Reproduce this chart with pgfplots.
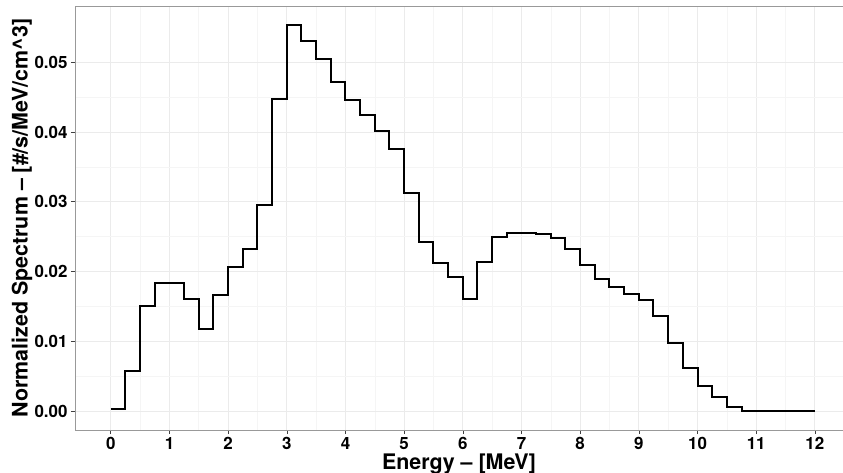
\documentclass[border=0pt]{standalone}
\usepackage{fontspec}
\setmainfont{TeX Gyre Heros}
\usepackage{pgfplots}
\pgfplotsset{compat=1.18}
\definecolor{gridmaj}{HTML}{EBEBEB}
\definecolor{gridmin}{HTML}{F5F5F5}
\definecolor{frame}{HTML}{999999}

\begin{document}
\begin{tikzpicture}
  \begin{axis}[
    at={(0,0)}, anchor=south west,
    scale only axis,
    width=768bp, height=424bp,
    xmin=-0.61, xmax=12.48,
    ymin=-0.00272, ymax=0.05807,
    xtick={0,1,...,12},
    ytick={0,0.01,0.02,0.03,0.04,0.05},
    minor x tick num=1, minor y tick num=1,
    grid=both,
    major grid style={gridmaj, line width=0.8bp},
    minor grid style={gridmin, line width=0.6bp},
    minor tick length=0pt,
    major tick length=4bp,
    tick align=outside,
    xtick pos=bottom, ytick pos=left,
    tick style={black!75, line width=0.6bp},
    axis line style={draw=none},
    /pgf/number format/assume math mode=true,
    yticklabel style={/pgf/number format/fixed,
      /pgf/number format/fixed zerofill,
      /pgf/number format/precision=2},
    scaled y ticks=false,
    ticklabel style={font=\bfseries\fontsize{17}{17}\selectfont, text=black},
    xlabel={Energy -- [MeV]},
    ylabel={Normalized Spectrum -- [\#/s/MeV/cm\^{}3]},
    label style={font=\bfseries\fontsize{21.5}{21.5}\selectfont},
    xlabel style={at={(axis description cs:0.5,-0.092)}, anchor=base},
    ylabel style={at={(axis description cs:-0.069,0.5)}, anchor=center, rotate=0},
    extra description/.code={
      \draw[frame, line width=0.8bp] (1,1) -- (0,1) -- (0,0) -- (1,0);
    },
  ]
    \addplot[const plot, black, line width=2bp, line join=miter] coordinates {
      (0,0.00025) (0.25,0.0058) (0.5,0.0150) (0.75,0.0184)
      (1.0,0.0183) (1.25,0.0161) (1.5,0.0118) (1.75,0.0167)
      (2.0,0.0206) (2.25,0.0232) (2.5,0.0296) (2.75,0.0447)
      (3.0,0.0554) (3.25,0.0531) (3.5,0.0505) (3.75,0.0472)
      (4.0,0.0446) (4.25,0.0425) (4.5,0.0402) (4.75,0.0375)
      (5.0,0.0313) (5.25,0.0243) (5.5,0.0212) (5.75,0.0192)
      (6.0,0.0160) (6.25,0.0214) (6.5,0.0250) (6.75,0.0255)
      (7.0,0.0255) (7.25,0.0254) (7.5,0.0248) (7.75,0.0232)
      (8.0,0.0210) (8.25,0.0190) (8.5,0.0178) (8.75,0.0168)
      (9.0,0.0159) (9.25,0.0136) (9.5,0.0098) (9.75,0.0061)
      (10.0,0.0036) (10.25,0.0020) (10.5,0.0006) (10.75,0.00005)
      (11.0,0) (11.25,0) (11.5,0) (11.75,0) (12,0)
    };
  \end{axis}
  \pgfresetboundingbox
  \path[use as bounding box] (-75bp,-43bp) rectangle (768bp,430bp);
\end{tikzpicture}
\end{document}
